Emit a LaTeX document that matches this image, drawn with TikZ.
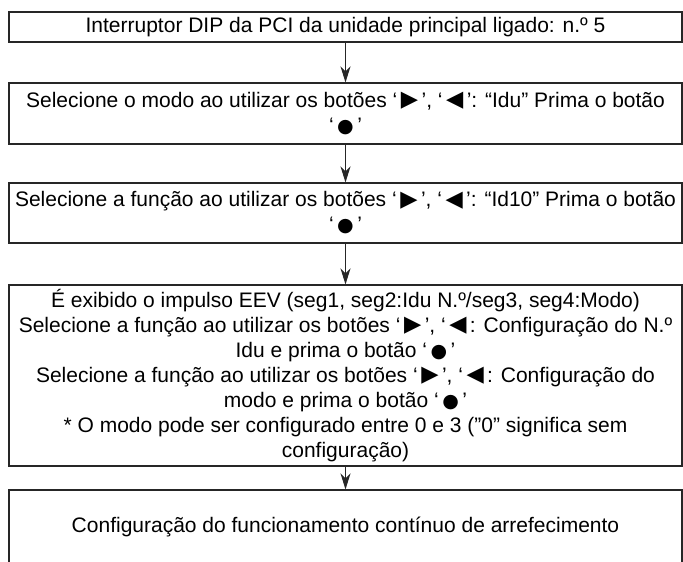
\documentclass[tikz,border=0pt]{standalone}
\usepackage{fontspec}
\setmainfont{Liberation Sans}
\newfontfamily\symfont{DejaVu Sans}
\usetikzlibrary{arrows.meta}

\newcommand{\rtri}{\,\raisebox{0.5pt}{\scalebox{1.4}{\symfont\fontsize{16}{16}\selectfont ▶}}\,}
\newcommand{\ltri}{\,\raisebox{0.5pt}{\scalebox{1.4}{\symfont\fontsize{16}{16}\selectfont ◀}}\,}
\newcommand{\bdot}{\,{\symfont\fontsize{19}{19}\selectfont ●}\,}

\begin{document}
\begin{tikzpicture}[x=1pt, y=-1pt,
  stepbox/.style={draw=black!85, line width=1.1pt, minimum width=673pt,
    inner sep=0pt, align=center, font=\fontsize{21}{25}\selectfont},
  flow/.style={draw=black!85, line width=1.1pt,
    -{Stealth[length=16pt, width=10pt, inset=5pt]}}]
  \useasboundingbox (0,0) rectangle (683,562);
  \node[stepbox, minimum height=30pt] (dip) at (345.5,27)
    {Interruptor DIP da PCI da unidade principal ligado: n.º 5};
  \node[stepbox, minimum height=61pt] (modo) at (345.5,113.5)
    {Selecione o modo ao utilizar os botões ‘\rtri’, ‘\ltri’: “Idu” Prima o botão\\ ‘\bdot’};
  \node[stepbox, minimum height=60pt] (funcao) at (345.5,213)
    {Selecione a função ao utilizar os botões ‘\rtri’, ‘\ltri’: “Id10” Prima o botão\\ ‘\bdot’};
  \node[stepbox, minimum height=181pt] (eev) at (345.5,375.5)
    {É exibido o impulso EEV (seg1, seg2:Idu N.º/seg3, seg4:Modo)\\
     Selecione a função ao utilizar os botões ‘\rtri’, ‘\ltri: Configuração do N.º\\
     Idu e prima o botão ‘\bdot’\\
     Selecione a função ao utilizar os botões ‘\rtri’, ‘\ltri: Configuração do\\
     modo e prima o botão ‘\bdot’\\
     * O modo pode ser configurado entre 0 e 3 (”0” significa sem\\
     configuração)};
  \node[stepbox, minimum height=74pt] (arref) at (345.5,527)
    {Configuração do funcionamento contínuo de arrefecimento};
  % connectors
  \draw[flow] (dip) -- (modo);
  \draw[flow] (modo) -- (funcao);
  \draw[flow] (funcao) -- (eev);
  \draw[flow] (eev) -- (arref);
\end{tikzpicture}
\end{document}
